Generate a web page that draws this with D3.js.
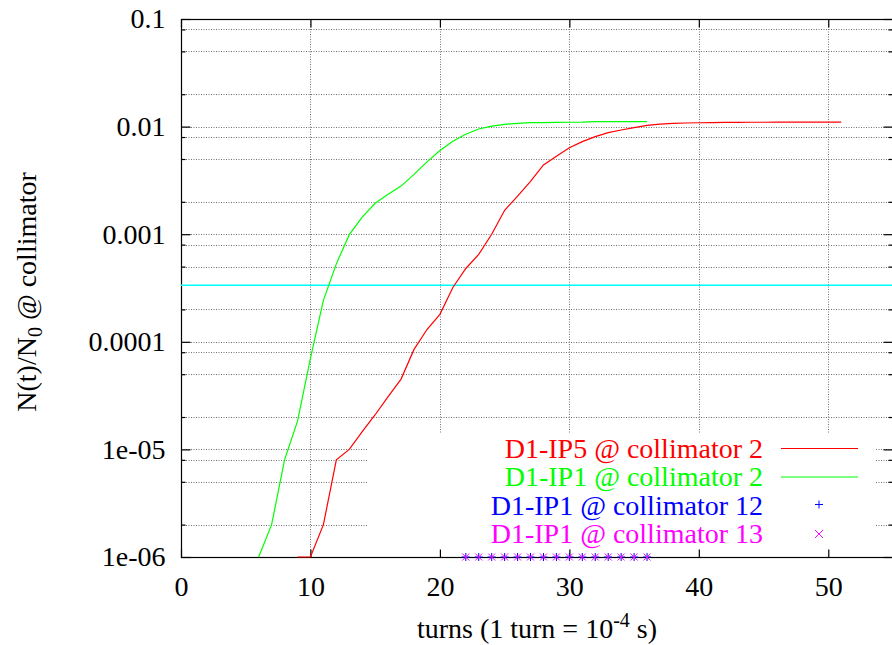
<!DOCTYPE html>
<html>
<head>
<meta charset="utf-8">
<script src="https://cdn.jsdelivr.net/npm/d3@7"></script>
<style>
  body { margin: 0; background: #fff; }
  svg { display: block; font-family: "Liberation Serif", "Times New Roman", serif; }
</style>
</head>
<body>
<svg id="chart" width="892" height="645"></svg>
<script>
// turns (x) for each curve
var turnsIP5 = [9, 10, 11, 12, 13, 14, 15, 16, 17, 18, 19, 20, 21, 22, 23, 24, 25, 26, 27, 28, 29, 30,
    31, 32, 33, 34, 35, 36, 37, 38, 39, 40, 41, 42, 43, 44, 45, 46, 47, 48, 49, 50, 51];
var lossIP5 = [1e-6, 1e-6, 2e-6, 8e-6, 1e-5, 1.46e-5, 2.1e-5, 3.1e-5, 4.5e-5, 8.5e-5, 1.3e-4, 1.8e-4,
    3.2e-4, 4.8e-4, 6.5e-4, 1.0e-3, 1.67e-3, 2.26e-3, 3.1e-3, 4.4e-3, 5.3e-3, 6.35e-3, 7.25e-3,
    8.07e-3, 8.8e-3, 9.3e-3, 9.8e-3, 0.01028, 0.01055, 0.0107, 0.0108, 0.01086, 0.0109, 0.01093,
    0.01095, 0.01097, 0.01098, 0.011, 0.011, 0.011, 0.011, 0.011, 0.011];

var turnsIP1 = [6, 7, 8, 9, 10, 11, 12, 13, 14, 15, 16, 17, 18, 19, 20, 21, 22, 23, 24, 25, 26, 27,
    28, 29, 30, 31, 32, 33, 34, 35, 36];
var lossIP1 = [1e-6, 2e-6, 8e-6, 1.83e-5, 7e-5, 2.43e-4, 5.3e-4, 9.9e-4, 1.44e-3, 1.94e-3, 2.35e-3,
    2.8e-3, 3.6e-3, 4.7e-3, 6.0e-3, 7.3e-3, 8.5e-3, 9.5e-3, 0.0101, 0.0105, 0.0107, 0.01087, 0.0109,
    0.01095, 0.01098, 0.011, 0.0111, 0.0111, 0.0111, 0.0111, 0.0111];

// collimators 12 and 13: points sitting on the lower bound
var turnsColl = [22, 23, 24, 25, 26, 27, 28, 29, 30, 31, 32, 33, 34, 35, 36];
var lossColl12 = [1e-6, 1e-6, 1e-6, 1e-6, 1e-6, 1e-6, 1e-6, 1e-6, 1e-6, 1e-6, 1e-6, 1e-6, 1e-6, 1e-6, 1e-6];
var lossColl13 = [1e-6, 1e-6, 1e-6, 1e-6, 1e-6, 1e-6, 1e-6, 1e-6, 1e-6, 1e-6, 1e-6, 1e-6, 1e-6, 1e-6, 1e-6];

var thresholdLevel = 3.35e-4;

var legendLabels = ["D1-IP5 @ collimator 2", "D1-IP1 @ collimator 2", "D1-IP1 @ collimator 12", "D1-IP1 @ collimator 13"];
var legendColors = ["#ff0000", "#00ff00", "#0000ff", "#ff00ff"];

var xTicks = [0, 10, 20, 30, 40, 50];
var yTicks = [1e-6, 1e-5, 1e-4, 1e-3, 1e-2, 1e-1];
var yTickLabels = ["1e-06", "1e-05", "0.0001", "0.001", "0.01", "0.1"];
var yMinorTicks = [2e-6, 5e-6, 8e-6, 2e-5, 5e-5, 8e-5, 2e-4, 5e-4, 8e-4, 2e-3, 5e-3, 8e-3, 2e-2, 5e-2, 8e-2];

var svg = d3.select("#chart");
var plotLeft = 181, plotRight = 893, plotTop = 19, plotBottom = 557;

var x = d3.scaleLinear().domain([0, 55]).range([plotLeft, plotRight]);
var y = d3.scaleLog().domain([1e-6, 0.1]).range([plotBottom, plotTop]);

// grid
var grid = svg.append("g").attr("stroke", "#707070").attr("stroke-width", 1).attr("stroke-dasharray", "1,1.5");
grid.selectAll(".hgrid")
    .data(yTicks.slice(0, 5).concat(yMinorTicks))
    .enter().append("line")
    .attr("x1", plotLeft).attr("x2", plotRight)
    .attr("y1", function (d) { return Math.round(y(d)) + 0.5; })
    .attr("y2", function (d) { return Math.round(y(d)) + 0.5; });
grid.selectAll(".vgrid")
    .data(xTicks.slice(1))
    .enter().append("line")
    .attr("y1", plotTop).attr("y2", plotBottom)
    .attr("x1", function (d) { return Math.round(x(d)) + 0.5; })
    .attr("x2", function (d) { return Math.round(x(d)) + 0.5; });

// key area is kept clear of the grid
svg.append("rect")
    .attr("x", 367).attr("y", 433)
    .attr("width", 508).attr("height", plotBottom - 433)
    .attr("fill", "#fff");

// border
svg.append("rect")
    .attr("x", plotLeft + 0.5).attr("y", plotTop + 0.5)
    .attr("width", plotRight - plotLeft).attr("height", plotBottom - plotTop)
    .attr("fill", "none").attr("stroke", "#000").attr("stroke-width", 1.2);

function styleAxis(g) {
    g.select(".domain").remove();
    g.attr("font-family", null);
    g.selectAll(".tick line").attr("stroke", "#000").attr("stroke-width", 1.2);
    g.selectAll("text").attr("font-size", 28).attr("fill", "#000");
}

svg.append("g")
    .attr("transform", "translate(" + (plotLeft + 0.5) + ",0)")
    .call(d3.axisLeft(y).tickValues(yTicks).tickSize(-9).tickSizeOuter(0).tickPadding(16)
        .tickFormat(function (d, i) { return yTickLabels[i]; }))
    .call(styleAxis);
svg.append("g")
    .attr("transform", "translate(" + (plotLeft + 0.5) + ",0)")
    .call(d3.axisLeft(y).tickValues(yMinorTicks).tickSize(-4).tickSizeOuter(0).tickFormat(""))
    .call(styleAxis);
svg.append("g")
    .attr("transform", "translate(" + (plotRight - 0.5) + ",0)")
    .call(d3.axisRight(y).tickValues(yTicks).tickSize(-9).tickSizeOuter(0).tickFormat(""))
    .call(styleAxis);
svg.append("g")
    .attr("transform", "translate(" + (plotRight - 0.5) + ",0)")
    .call(d3.axisRight(y).tickValues(yMinorTicks).tickSize(-4).tickSizeOuter(0).tickFormat(""))
    .call(styleAxis);
svg.append("g")
    .attr("transform", "translate(0," + (plotBottom + 0.5) + ")")
    .call(d3.axisBottom(x).tickValues(xTicks).tickSize(-8).tickSizeOuter(0).tickPadding(19))
    .call(styleAxis);
svg.append("g")
    .attr("transform", "translate(0," + (plotTop + 0.5) + ")")
    .call(d3.axisTop(x).tickValues(xTicks).tickSize(-8).tickSizeOuter(0).tickFormat(""))
    .call(styleAxis);

// cyan reference level
svg.append("line")
    .attr("x1", plotLeft).attr("x2", plotRight)
    .attr("y1", y(thresholdLevel)).attr("y2", y(thresholdLevel))
    .attr("stroke", "#00ffff").attr("stroke-width", 1.6);

var line = d3.line()
    .x(function (d) { return x(d[0]); })
    .y(function (d) { return y(d[1]); });

svg.append("path")
    .datum(d3.zip(turnsIP5, lossIP5))
    .attr("d", line)
    .attr("fill", "none").attr("stroke", legendColors[0]).attr("stroke-width", 1.2);
svg.append("path")
    .datum(d3.zip(turnsIP1, lossIP1))
    .attr("d", line)
    .attr("fill", "none").attr("stroke", legendColors[1]).attr("stroke-width", 1.2);

function plusPath(cx, cy, s) {
    return "M" + (cx - s) + "," + cy + "H" + (cx + s) + "M" + cx + "," + (cy - s) + "V" + (cy + s);
}
function crossPath(cx, cy, s) {
    return "M" + (cx - s) + "," + (cy - s) + "L" + (cx + s) + "," + (cy + s) +
        "M" + (cx - s) + "," + (cy + s) + "L" + (cx + s) + "," + (cy - s);
}

svg.selectAll(".p12")
    .data(d3.zip(turnsColl, lossColl12))
    .enter().append("path")
    .attr("d", function (d) { return plusPath(x(d[0]), y(d[1]), 4); })
    .attr("stroke", legendColors[2]).attr("stroke-width", 1);
svg.selectAll(".p13")
    .data(d3.zip(turnsColl, lossColl13))
    .enter().append("path")
    .attr("d", function (d) { return crossPath(x(d[0]), y(d[1]), 3.5); })
    .attr("stroke", legendColors[3]).attr("stroke-width", 1);

// key
var key = svg.append("g");
legendLabels.forEach(function (label, i) {
    var cy = 448.5 + i * 28.5;
    key.append("text")
        .attr("x", 763).attr("y", cy + 9)
        .attr("text-anchor", "end")
        .attr("font-size", 28)
        .attr("fill", legendColors[i])
        .text(label);
    if (i < 2) {
        key.append("line")
            .attr("x1", 781).attr("x2", 858)
            .attr("y1", cy).attr("y2", cy)
            .attr("stroke", legendColors[i]).attr("stroke-width", 1.2);
    } else {
        key.append("path")
            .attr("d", i == 2 ? plusPath(819, cy - 1, 4) : crossPath(819, cy, 4))
            .attr("stroke", legendColors[i]).attr("stroke-width", 1);
    }
});

// axis titles
var xt = svg.append("text")
    .attr("x", (plotLeft + plotRight) / 2).attr("y", 638)
    .attr("text-anchor", "middle")
    .attr("font-size", 28);
xt.append("tspan").text("turns (1 turn = 10");
xt.append("tspan").attr("dy", -11).attr("font-size", 20).text("-4");
xt.append("tspan").attr("dy", 11).text(" s)");

var yt = svg.append("text")
    .attr("transform", "translate(36,292) rotate(-90)")
    .attr("text-anchor", "middle")
    .attr("font-size", 28);
yt.append("tspan").text("N(t)/N");
yt.append("tspan").attr("dy", 6).attr("font-size", 20).text("0");
yt.append("tspan").attr("dy", -6).text(" @ collimator");
</script>
</body>
</html>
